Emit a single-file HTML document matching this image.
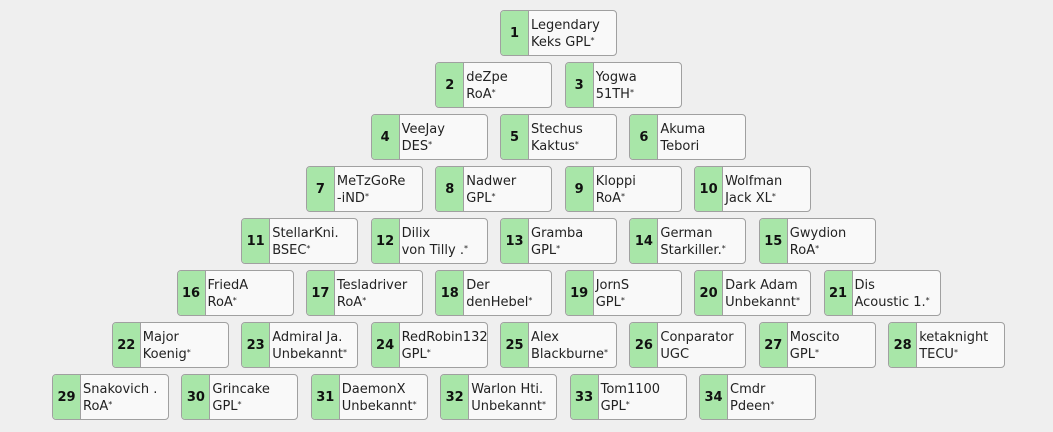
<!DOCTYPE html>
<html><head><meta charset="utf-8"><style>
body{margin:0;width:1053px;height:432px;background:#efefef;font-family:"DejaVu Sans","Liberation Sans",sans-serif;position:relative;overflow:hidden}
.b{position:absolute;border:1px solid #a0a0a0;border-radius:4px;background:#f9f9f9;overflow:hidden;box-sizing:border-box;height:46px;width:117px}
.n{position:absolute;left:0;top:0;bottom:0;width:27px;background:#a8e6a8;border-right:1px solid #a0a0a0;font-weight:bold;font-size:13px;display:flex;align-items:center;justify-content:center;color:#111}
.t{position:absolute;left:30px;top:6px;font-size:13px;line-height:17px;color:#222;white-space:nowrap}
sup{font-size:8px;vertical-align:top;position:relative;top:-2px}
</style></head><body>
<script>
const d=[["Legendary","Keks GPL*"],["deZpe","RoA*"],["Yogwa","51TH*"],["VeeJay","DES*"],["Stechus","Kaktus*"],["Akuma","Tebori"],["MeTzGoRe","-iND*"],["Nadwer","GPL*"],["Kloppi","RoA*"],["Wolfman","Jack XL*"],["StellarKni.","BSEC*"],["Dilix","von Tilly .*"],["Gramba","GPL*"],["German","Starkiller.*"],["Gwydion","RoA*"],["FriedA","RoA*"],["Tesladriver","RoA*"],["Der","denHebel*"],["JornS","GPL*"],["Dark Adam","Unbekannt*"],["Dis","Acoustic 1.*"],["Major","Koenig*"],["Admiral Ja.","Unbekannt*"],["RedRobin132","GPL*"],["Alex","Blackburne*"],["Conparator","UGC"],["Moscito","GPL*"],["ketaknight","TECU*"],["Snakovich .","RoA*"],["Grincake","GPL*"],["DaemonX","Unbekannt*"],["Warlon Hti.","Unbekannt*"],["Tom1100","GPL*"],["Cmdr","Pdeen*"]];
const rows=[1,2,3,4,5,6,7,6];let k=0,h="";
rows.forEach((c,r)=>{for(let i=0;i<c;i++){const x0=r==7?52:500-64.7*r;const x=x0+129.4*i,y=10+52*r;const[a,b]=d[k];k++;
const f=s=>s.replace("*","<sup>*</sup>");
h+=`<div class="b" style="left:${x.toFixed(1)}px;top:${y}px"><div class="n">${k}</div><div class="t">${f(a)}<br>${f(b)}</div></div>`;}});
document.body.innerHTML=h;
</script>
</body></html>
